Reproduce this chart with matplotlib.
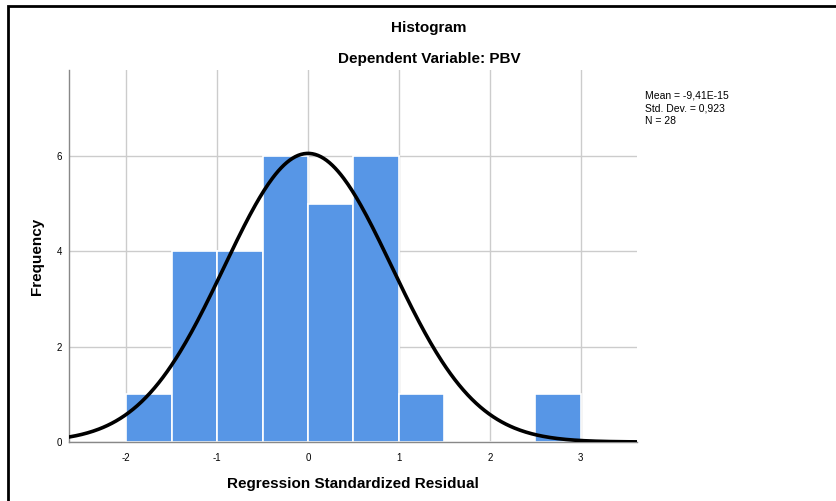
import numpy as np
import matplotlib.pyplot as plt
from matplotlib.patches import Rectangle

plt.rcParams['font.family'] = ['Liberation Sans', 'DejaVu Sans']

# histogram bins (width 0.5) and counts
bin_edges = [-2.0, -1.5, -1.0, -0.5, 0.0, 0.5, 1.0, 1.5, 2.0, 2.5, 3.0]
counts = [1, 4, 4, 6, 5, 6, 1, 0, 0, 1]
mean = -9.41e-15
std = 0.923
n = 28
x_ticks = [-2, -1, 0, 1, 2, 3]
y_ticks = [0, 2, 4, 6]

fig = plt.figure(figsize=(8.37, 5.01), dpi=100)
ax = fig.add_axes([69/837, 1 - 442/501, (637 - 69)/837, (442 - 70)/501])

widths = np.diff(bin_edges)
ax.bar(bin_edges[:-1], counts, width=widths, align='edge',
       color='#5796e6', edgecolor='white', linewidth=1.2, zorder=2)

# normal curve scaled to counts
xs = np.linspace(-2.63, 3.62, 400)
ys = n * widths[0] * np.exp(-0.5 * ((xs - mean) / std) ** 2) / (std * np.sqrt(2 * np.pi))
ax.plot(xs, ys, color='black', linewidth=2.6, zorder=3)

ax.set_xlim(-2.63, 3.62)
ax.set_ylim(0, 7.8)
ax.set_xticks(x_ticks)
ax.set_yticks(y_ticks)
ax.set_xticklabels([str(t) for t in x_ticks])
ax.tick_params(axis='x', labelsize=7, length=0, pad=8)
ax.tick_params(axis='y', labelsize=7, length=0, pad=5)
ax.grid(True, color='#cccccc', linewidth=1, zorder=0)
ax.set_axisbelow(True)
for s in ['top', 'right']:
    ax.spines[s].set_visible(False)
for s in ['left', 'bottom']:
    ax.spines[s].set_color('#888888')
    ax.spines[s].set_linewidth(1)

ax.set_xlabel('Regression Standardized Residual', fontsize=11, fontweight='bold', labelpad=10)
ax.set_ylabel('Frequency', fontsize=11, fontweight='bold', labelpad=9)

fig.text(429/837, 1 - 28/501, 'Histogram', ha='center', va='center', fontsize=11, fontweight='bold')
fig.text(429/837, 1 - 59/501, 'Dependent Variable: PBV', ha='center', va='center', fontsize=11, fontweight='bold')

fig.text(645/837, 1 - 90/501,
         'Mean = -9,41E-15\nStd. Dev. = 0,923\nN = 28',
         ha='left', va='top', fontsize=7.5, linespacing=1.4)

# outer frame
fig.patches.append(Rectangle((8.5/837, -0.1), 1.2, (1 - 5.5/501) + 0.1, transform=fig.transFigure,
                             fill=False, edgecolor='black', linewidth=2))

fig.savefig('out.png', dpi=100)
